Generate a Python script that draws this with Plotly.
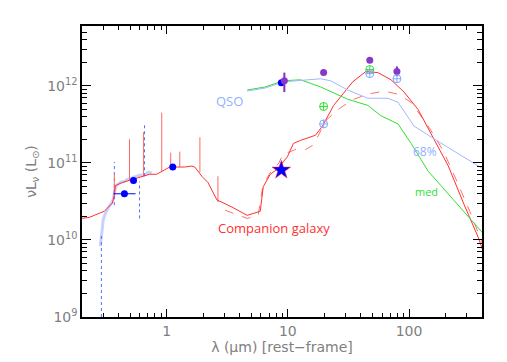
import numpy as np
import plotly.graph_objects as go

# galaxy model (solid red), wavelength as log10(um), luminosity as log10(Lsun)
gal_logx = [-0.705, -0.639, -0.598, -0.556, -0.515, -0.490, -0.448, -0.432, -0.423, -0.365, -0.282,
            -0.199, -0.141, -0.083, -0.041, 0.025, 0.091, 0.149, 0.207, 0.232, 0.290, 0.340, 0.415,
            0.539, 0.664, 0.730, 0.772, 0.797, 0.855, 0.913, 0.996, 1.046, 1.104, 1.228, 1.286,
            1.378, 1.535, 1.643, 1.743, 1.851, 1.959, 2.075, 2.199, 2.324, 2.456, 2.573, 2.614]
gal_logy = [10.28, 10.293, 10.32, 10.347, 10.373, 10.413, 10.48, 10.587, 10.707, 10.747, 10.787,
            10.827, 10.853, 10.853, 10.893, 10.947, 10.947, 10.947, 10.96, 10.947, 10.827, 10.747, 10.52,
            10.427, 10.32, 10.347, 10.373, 10.693, 10.853, 10.92, 11.08, 11.253, 11.293, 11.36, 11.48,
            11.747, 12.053, 12.187, 12.173, 12.08, 11.92, 11.693, 11.333, 10.96, 10.453, 10.027, 9.84]

# second model (dashed red)
dash_logx = [0.481, 0.664, 0.755, 0.788, 0.822, 0.871, 0.921, 0.963, 1.021, 1.079, 1.145, 1.203,
             1.253, 1.311, 1.411, 1.544, 1.660, 1.793, 1.909, 2.017, 2.158, 2.282, 2.407, 2.515, 2.614]
dash_logy = [10.387, 10.28, 10.32, 10.653, 10.787, 10.92, 10.987, 11.12, 11.147, 11.187, 11.173, 11.227,
             11.36, 11.547, 11.693, 11.827, 11.893, 11.933, 11.893, 11.787, 11.48, 11.16, 10.72, 10.32, 9.92]

# emission lines on the galaxy spectrum
line_logx = [-0.432, -0.307, -0.191, -0.041, 0.033, 0.108, 0.274, 0.423]
line_base = [10.587, 10.773, 10.827, 10.893, 10.947, 10.947, 10.88, 10.493]
line_top = [10.853, 11.307, 11.40, 11.653, 11.133, 11.147, 11.333, 10.827]

# observed optical spectrum
spec_logx = [-0.548, -0.539, -0.531, -0.523, -0.506, -0.490, -0.473, -0.456, -0.440, -0.432, -0.423,
             -0.407, -0.382, -0.349, -0.324, -0.299, -0.274, -0.249, -0.224, -0.199, -0.174, -0.149, -0.124]
spec_logy = [9.92, 10.08, 10.187, 10.267, 10.347, 10.40, 10.44, 10.48, 10.533, 10.613, 10.68,
             10.72, 10.747, 10.76, 10.787, 10.80, 10.813, 10.827, 10.84, 10.84, 10.853, 10.88, 10.867]
noise_logx = [-0.539, -0.432, -0.224, -0.183]
noise_lo = [9.0, 10.453, 10.28, 10.827]
noise_hi = [10.08, 11.013, 10.76, 11.493]

# QSO templates
med_logx = [0.664, 0.813, 0.963, 1.104, 1.270, 1.494, 1.660, 1.768, 1.909, 2.017, 2.158, 2.614]
med_logy = [11.947, 11.987, 12.067, 12.08, 11.987, 11.827, 11.747, 11.613, 11.507, 11.253, 10.893, 10.08]
p68_logx = [0.664, 0.813, 0.963, 1.104, 1.270, 1.353, 1.494, 1.660, 1.826, 1.909, 2.041, 2.199, 2.614]
p68_logy = [11.933, 11.973, 12.053, 12.067, 12.093, 12.067, 11.947, 11.84, 11.84, 11.787, 11.48, 11.32, 10.92]

# photometry
blue_logx = [-0.349, -0.274, 0.050, 0.946]
blue_logy = [10.60, 10.773, 10.947, 12.04]
blue_xlo = [-0.440, None, None, None]
blue_xhi = [-0.257, None, None, None]
purple_logx = [0.971, 1.295, 1.676, 1.900]
purple_logy = [12.067, 12.173, 12.333, 12.187]
purple_lo = [11.92, None, None, 12.127]
purple_hi = [12.173, None, None, 12.253]
green_logx = [1.295, 1.676]
green_logy = [11.733, 12.213]
cyan_logx = [1.295, 1.676, 1.900]
cyan_logy = [11.507, 12.16, 12.093]
star_logx = [0.946]
star_logy = [10.907]

def p(v):
    return 10 ** np.array(v, dtype=float)

def segs(xs, lo, hi):
    X, Y = [], []
    for a, b, c in zip(xs, lo, hi):
        if b is None:
            continue
        X += [10 ** a, 10 ** a, None]
        Y += [10 ** b, 10 ** c, None]
    return X, Y

def hsegs(ys, lo, hi):
    X, Y = [], []
    for a, b, c in zip(ys, lo, hi):
        if b is None:
            continue
        X += [10 ** b, 10 ** c, None]
        Y += [10 ** a, 10 ** a, None]
    return X, Y

fig = go.Figure()

# optical spectrum
fig.add_trace(go.Scatter(x=p(spec_logx), y=p(spec_logy), mode="lines",
                         line=dict(color="rgba(120,140,255,0.4)", width=3)))
nx, ny = segs(noise_logx, noise_lo, noise_hi)
fig.add_trace(go.Scatter(x=nx, y=ny, mode="lines", line=dict(color="#5070ff", width=1, dash="dot")))

# galaxy models
lx, ly = segs(line_logx, line_base, line_top)
fig.add_trace(go.Scatter(x=lx, y=ly, mode="lines", line=dict(color="#ff6868", width=1)))
fig.add_trace(go.Scatter(x=p(dash_logx), y=p(dash_logy), mode="lines",
                         line=dict(color="#ff7070", width=1, dash="dash")))
fig.add_trace(go.Scatter(x=p(gal_logx), y=p(gal_logy), mode="lines",
                         line=dict(color="#ff3030", width=1)))

# QSO templates
fig.add_trace(go.Scatter(x=p(med_logx), y=p(med_logy), mode="lines", line=dict(color="#30e030", width=1)))
fig.add_trace(go.Scatter(x=p(p68_logx), y=p(p68_logy), mode="lines", line=dict(color="#a0b8ff", width=1)))

# photometry
ex, ey = hsegs(blue_logy, blue_xlo, blue_xhi)
fig.add_trace(go.Scatter(x=ex, y=ey, mode="lines", line=dict(color="#0000ff", width=1)))
fig.add_trace(go.Scatter(x=p(blue_logx), y=p(blue_logy), mode="markers",
                         marker=dict(color="#0000ff", size=7)))
px_, py_ = segs(purple_logx, purple_lo, purple_hi)
fig.add_trace(go.Scatter(x=px_, y=py_, mode="lines", line=dict(color="#8030c0", width=2)))
fig.add_trace(go.Scatter(x=p(purple_logx), y=p(purple_logy), mode="markers",
                         marker=dict(color="#8838c8", size=7)))
fig.add_trace(go.Scatter(x=p(green_logx), y=p(green_logy), mode="markers",
                         marker=dict(symbol="circle-cross-open", color="#30e030", size=8, line=dict(width=1))))
fig.add_trace(go.Scatter(x=p(cyan_logx), y=p(cyan_logy), mode="markers",
                         marker=dict(symbol="circle-cross-open", color="#80a8ff", size=8, line=dict(width=1))))
fig.add_trace(go.Scatter(x=p(star_logx), y=p(star_logy), mode="markers",
                         marker=dict(symbol="star", color="#0000ff", size=14,
                                     line=dict(color="#ff3030", width=0.5))))

# labels
fig.add_annotation(x=np.log10(3.3), y=11.81, text="QSO", showarrow=False,
                   font=dict(color="#90b0ff", size=13))
fig.add_annotation(x=np.log10(7.7), y=10.16, text="Companion galaxy", showarrow=False,
                   font=dict(color="#ff3030", size=13))
fig.add_annotation(x=np.log10(136), y=11.147, text="68%", showarrow=False,
                   font=dict(color="#90b0ff", size=12))
fig.add_annotation(x=np.log10(138), y=10.627, text="med", showarrow=False,
                   font=dict(color="#30e030", size=11))

x_minor = [0.3, 0.4, 0.5, 0.6, 0.7, 0.8, 0.9, 2, 3, 4, 5, 6, 7, 8, 9,
           20, 30, 40, 50, 60, 70, 80, 90, 200, 300, 400]
y_minor = [m * 10 ** e for e in range(9, 13) for m in range(2, 10) if m * 10 ** e < 6e12]

axis_font = dict(family="DejaVu Sans", color="#808080", size=14)
fig.update_xaxes(type="log", range=[np.log10(0.2), np.log10(400)], automargin=False,
                 tickvals=[1, 10, 100], ticktext=["1", "10", "100"],
                 ticks="inside", ticklen=8, tickcolor="black", tickwidth=1,
                 minor=dict(tickvals=x_minor, ticks="inside", ticklen=4, tickcolor="black"),
                 showline=True, linecolor="black", linewidth=1.5, mirror="ticks",
                 showgrid=False, zeroline=False, tickfont=axis_font,
                 title=dict(text="λ (μm) [rest−frame]", font=axis_font, standoff=0))
fig.update_yaxes(type="log", range=[9, np.log10(6e12)], automargin=False,
                 tickvals=[1e9, 1e10, 1e11, 1e12],
                 ticktext=["10<sup>9</sup>", "10<sup>10</sup>", "10<sup>11</sup>", "10<sup>12</sup>"],
                 ticks="inside", ticklen=9, tickcolor="black", tickwidth=1,
                 minor=dict(tickvals=y_minor, ticks="inside", ticklen=5, tickcolor="black"),
                 showline=True, linecolor="black", linewidth=1.5, mirror="ticks",
                 showgrid=False, zeroline=False, tickfont=axis_font,
                 title=dict(text="νL<sub>ν</sub> (L<sub>⊙</sub>)", font=axis_font, standoff=7))
# page body adds an 8px offset, so the figure is a bit smaller than the window
fig.update_layout(width=499, height=354, showlegend=False,
                  margin=dict(l=74, r=25, t=18, b=45),
                  paper_bgcolor="white", plot_bgcolor="white")
fig.write_html("out.html")
